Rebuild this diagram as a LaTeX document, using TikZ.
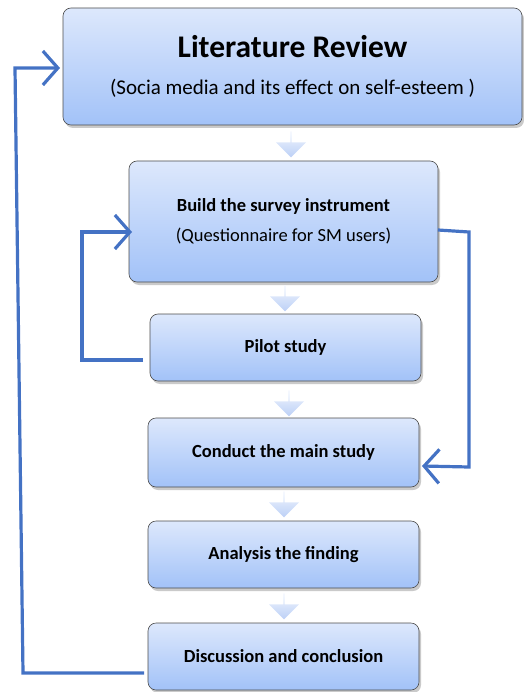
\documentclass[tikz,border=0pt]{standalone}
\usepackage{fontspec}
\setmainfont{Carlito}
\usetikzlibrary{shadows,shapes.arrows,arrows.meta}
\definecolor{boxtop}{HTML}{DDE8FC}
\definecolor{boxbot}{HTML}{A2C2F8}
\definecolor{loopblue}{HTML}{4472C4}
\definecolor{arrtop}{HTML}{F2F6FE}
\definecolor{arrbot}{HTML}{BCD0F6}
\tikzset{
  stepbox/.style={draw=black!70, line width=0.6pt, rounded corners=8pt,
    top color=boxtop, bottom color=boxbot, align=center, inner sep=0pt,
    drop shadow={shadow xshift=2pt, shadow yshift=-3pt, opacity=0.35, fill=black!60}},
  steptext/.style={font=\fontsize{18.5}{22}\selectfont\bfseries},
  flowarrow/.style={single arrow, shape border rotate=270, minimum width=30pt,
    minimum height=26pt, single arrow head extend=5.5pt, single arrow head indent=0pt,
    inner sep=0pt, top color=arrtop, bottom color=arrbot, draw=none},
  loopline/.style={draw=loopblue, line width=3.2pt, line join=miter,
    -{Straight Barb[length=15pt,width=34pt,line width=3.2pt]}},
}
\begin{document}
\begin{tikzpicture}[x=1pt,y=-1pt]
\useasboundingbox (0,0) rectangle (523,692);
\node[stepbox, minimum width=459pt, minimum height=117pt] (lit) at (292.5,66.5)
  {{\fontsize{31.5}{36}\selectfont\bfseries Literature Review}\\[20pt]
   {\fontsize{21}{24}\selectfont (Socia media and its effect on self-esteem )}};
\node[stepbox, minimum width=309pt, minimum height=121pt] (build) at (283.5,221.5)
  {{\fontsize{18.5}{22}\selectfont\bfseries Build the survey instrument}\\[12pt]
   {\fontsize{18.5}{22}\selectfont (Questionnaire for SM users)}};
\node[stepbox, steptext, minimum width=271pt, minimum height=67pt] (pilot) at (285.5,347.5)
  {Pilot study};
\node[stepbox, steptext, minimum width=271pt, minimum height=69pt] (main) at (283.5,452.5)
  {Conduct the main study};
\node[stepbox, steptext, minimum width=271pt, minimum height=67pt] (anal) at (283.5,554.5)
  {Analysis the finding};
\node[stepbox, steptext, minimum width=271pt, minimum height=67pt] (disc) at (283.5,656.5)
  {Discussion and conclusion};
% block arrows
\node[flowarrow] (a1) at (291,144) {};
\node[flowarrow] (a2) at (285,298) {};
\node[flowarrow] (a3) at (289,403) {};
\node[flowarrow] (a4) at (284,504) {};
\node[flowarrow] (a5) at (284,606) {};
% feedback loops
\coordinate (litin) at (60,68);
\coordinate (discout) at (144,673);
\draw[loopline] (discout) -- (23,673) -- (15,68) -- (litin);
\coordinate (pilotout) at (143,360);
\coordinate (buildin) at (132,232);
\draw[loopline] (pilotout) -- (82,360) -- (82,232) -- (buildin);
\coordinate (buildout) at (438,230);
\coordinate (mainin) at (422,466);
\draw[loopline] (buildout) -- (469,232) -- (469,467) -- (mainin);
\end{tikzpicture}
\end{document}
